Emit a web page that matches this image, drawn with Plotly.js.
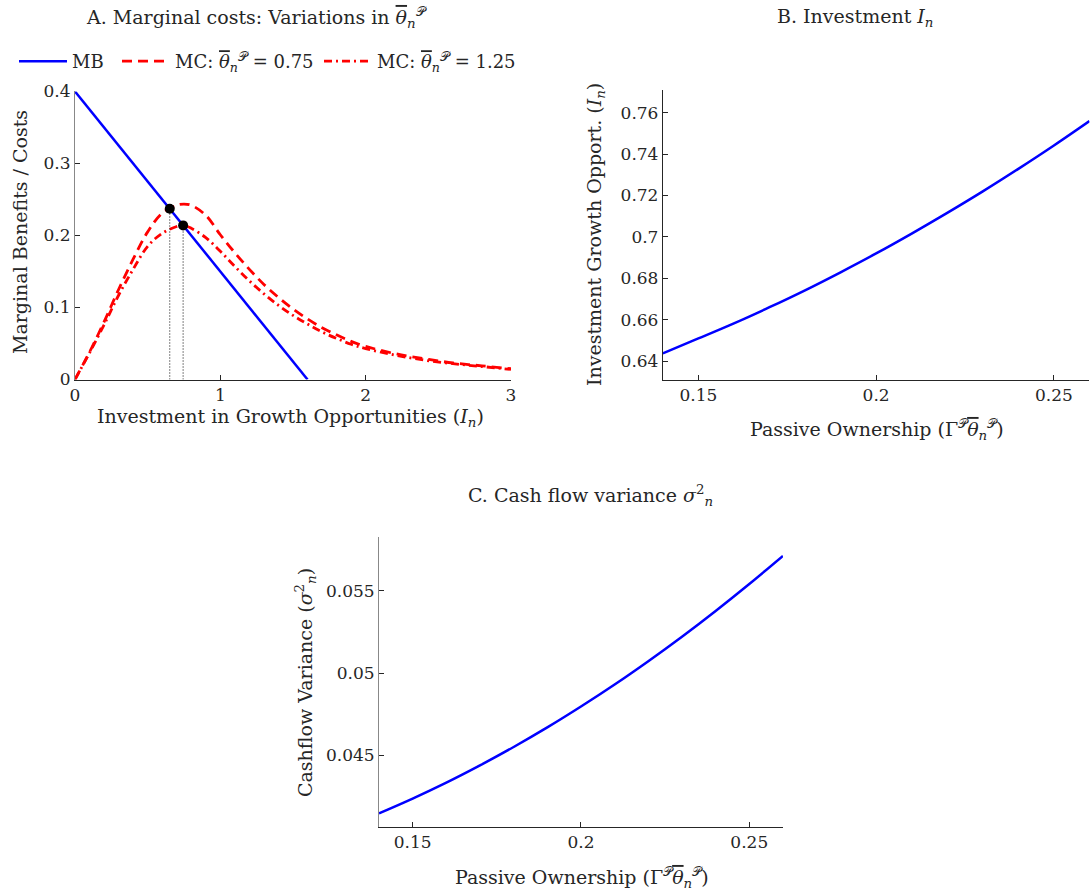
<!DOCTYPE html>
<html>
<head>
<meta charset="utf-8">
<script src="https://cdn.plot.ly/plotly-3.0.1.min.js"></script>
<style>html,body{margin:0;padding:0;background:#fff;}#chart{width:1090px;height:894px;}</style>
</head>
<body>
<div id="chart"></div>
<script>
// ---- Panel A data ----
const mbX = [0, 1.6];
const mbY = [0.4, 0];
const mcX = [0, 0.1, 0.2, 0.3, 0.4, 0.5, 0.6, 0.7, 0.75, 0.8, 0.9, 1.0, 1.1, 1.2, 1.3, 1.4, 1.5, 1.6, 1.7, 1.8, 1.9, 2.0, 2.2, 2.4, 2.6, 2.8, 3.0];
const mcLow = [0, 0.038, 0.080, 0.125, 0.167, 0.205, 0.231, 0.242, 0.2435, 0.242, 0.228, 0.201, 0.176, 0.153, 0.132, 0.114, 0.098, 0.084, 0.072, 0.062, 0.053, 0.046, 0.036, 0.029, 0.023, 0.019, 0.015];
const mcHigh = [0, 0.037, 0.076, 0.117, 0.153, 0.185, 0.203, 0.2125, 0.214, 0.210, 0.197, 0.178, 0.157, 0.137, 0.119, 0.103, 0.089, 0.077, 0.066, 0.057, 0.049, 0.043, 0.034, 0.027, 0.022, 0.018, 0.014];
const eqX = [0.652, 0.744];
const eqY = [0.237, 0.214];
const aXTicks = [0, 1, 2, 3];
const aYTicks = [0, 0.1, 0.2, 0.3, 0.4];
const aYTickText = ['0', '0.1', '0.2', '0.3', '0.4'];

// ---- Panel B / C data ----
const passive = [0.14, 0.15, 0.16, 0.17, 0.18, 0.19, 0.20, 0.21, 0.22, 0.23, 0.24, 0.25, 0.26];
const investment = [0.6437, 0.6509, 0.6582, 0.6660, 0.6742, 0.6829, 0.6920, 0.7016, 0.7116, 0.7220, 0.7329, 0.7442, 0.7560];
const cfVariance = [0.04146, 0.04236, 0.04333, 0.04438, 0.04550, 0.04669, 0.04796, 0.04930, 0.05072, 0.05221, 0.05378, 0.05542, 0.05713];
const bXTicks = [0.15, 0.2, 0.25];
const bXTickText = ['0.15', '0.2', '0.25'];
const bYTicks = [0.64, 0.66, 0.68, 0.70, 0.72, 0.74, 0.76];
const bYTickText = ['0.64', '0.66', '0.68', '0.7', '0.72', '0.74', '0.76'];
const cYTicks = [0.045, 0.05, 0.055];
const cYTickText = ['0.045', '0.05', '0.055'];

const FONT = 'DejaVu Serif, Liberation Serif, serif';
const TXT = '#262626';
const P = '𝒫';
const thetaBar = '<span style="text-decoration:overline"><i>θ</i></span><sub><i>n</i></sub><sup>' + P + '</sup>';

const traces = [
  {x: mbX, y: mbY, mode: 'lines', name: 'MB', legend: 'legend', line: {color: '#0000ff', width: 2.5}, xaxis: 'x', yaxis: 'y'},
  {x: mcX, y: mcLow, mode: 'lines', name: 'MC: ' + thetaBar + ' = 0.75', legend: 'legend2', line: {color: '#ff0000', width: 2.8, dash: '10px,6px', shape: 'spline'}, xaxis: 'x', yaxis: 'y'},
  {x: mcX, y: mcHigh, mode: 'lines', name: 'MC: ' + thetaBar + ' = 1.25', legend: 'legend3', line: {color: '#ff0000', width: 2.8, dash: '8px,4px,2px,4px', shape: 'spline'}, xaxis: 'x', yaxis: 'y'},
  {x: [eqX[0], eqX[0]], y: [0, eqY[0]], mode: 'lines', showlegend: false, line: {color: '#000', width: 1, dash: '1px,2px'}, xaxis: 'x', yaxis: 'y'},
  {x: [eqX[1], eqX[1]], y: [0, eqY[1]], mode: 'lines', showlegend: false, line: {color: '#000', width: 1, dash: '1px,2px'}, xaxis: 'x', yaxis: 'y'},
  {x: eqX, y: eqY, mode: 'markers', showlegend: false, marker: {color: '#000', size: 10}, xaxis: 'x', yaxis: 'y'},
  {x: passive, y: investment, mode: 'lines', showlegend: false, line: {color: '#0000ff', width: 2.5, shape: 'spline', smoothing: 1}, xaxis: 'x2', yaxis: 'y2'},
  {x: passive, y: cfVariance, mode: 'lines', showlegend: false, line: {color: '#0000ff', width: 2.5, shape: 'spline', smoothing: 1}, xaxis: 'x3', yaxis: 'y3'}
];

function ax(extra) {
  return Object.assign({
    showline: true, linecolor: TXT, linewidth: 1, ticks: 'inside', ticklen: 5, tickcolor: TXT,
    showgrid: false, zeroline: false, mirror: false, automargin: false,
    tickfont: {family: FONT, size: 17, color: TXT}
  }, extra);
}
const TF = {family: FONT, size: 19, color: TXT};
const passiveTitle = 'Passive Ownership (Γ<sup>' + P + '</sup>' + thetaBar + ')';

function note(text, px, py, angle) {
  return {text: text, x: px / 1090, y: 1 - py / 894, xref: 'paper', yref: 'paper', xanchor: 'center', yanchor: 'middle',
          showarrow: false, textangle: angle || 0, font: TF};
}
function leg(px) {
  return {orientation: 'h', x: px / 1090, y: 1 - 43 / 894, xanchor: 'left', yanchor: 'top',
          font: {family: FONT, size: 18, color: TXT}, bgcolor: 'rgba(0,0,0,0)', itemwidth: 48};
}

const layout = {
  width: 1090, height: 894,
  margin: {l: 0, r: 0, t: 0, b: 0},
  paper_bgcolor: '#fff', plot_bgcolor: '#fff',
  font: {family: FONT, color: TXT},
  showlegend: true,
  legend: leg(14),
  legend2: leg(117),
  legend3: leg(319),
  xaxis: ax({domain: [0.0688, 0.4688], range: [0, 3], tickvals: aXTicks, ticktext: aXTicks.map(String), anchor: 'y'}),
  yaxis: ax({domain: [0.5755, 0.8977], range: [0, 0.4], tickvals: aYTicks, ticktext: aYTickText, anchor: 'x', linecolor: '#888'}),
  xaxis2: ax({domain: [0.6081, 0.9995], range: [0.14, 0.26], tickvals: bXTicks, ticktext: bXTickText, anchor: 'y2'}),
  yaxis2: ax({domain: [0.5749, 0.8993], range: [0.6308, 0.771], tickvals: bYTicks, ticktext: bYTickText, anchor: 'x2'}),
  xaxis3: ax({domain: [0.3477, 0.7183], range: [0.14, 0.26], tickvals: bXTicks, ticktext: bXTickText, anchor: 'y3'}),
  yaxis3: ax({domain: [0.0753, 0.3997], range: [0.04065, 0.0583], tickvals: cYTicks, ticktext: cYTickText, anchor: 'x3', linecolor: '#888'}),
  annotations: [
    note('A. Marginal costs: Variations in ' + thetaBar, 256, 18),
    note('B. Investment <i>I<sub>n</sub></i>', 855, 18),
    note('C. Cash flow variance <i>σ</i><sup>2</sup><sub><i>n</i></sub>', 591, 495),
    note('Investment in Growth Opportunities (<i>I<sub>n</sub></i>)', 290, 418),
    note('Marginal Benefits / Costs', 20, 232, -90),
    note(passiveTitle, 877, 430),
    note('Investment Growth Opport. (<i>I<sub>n</sub></i>)', 596, 235, -90),
    note(passiveTitle, 582, 877),
    note('Cashflow Variance (<i>σ</i><sup>2</sup><sub><i>n</i></sub>)', 305, 683, -90)
  ]
};

Plotly.newPlot('chart', traces, layout, {staticPlot: true, displayModeBar: false});
</script>
</body>
</html>
